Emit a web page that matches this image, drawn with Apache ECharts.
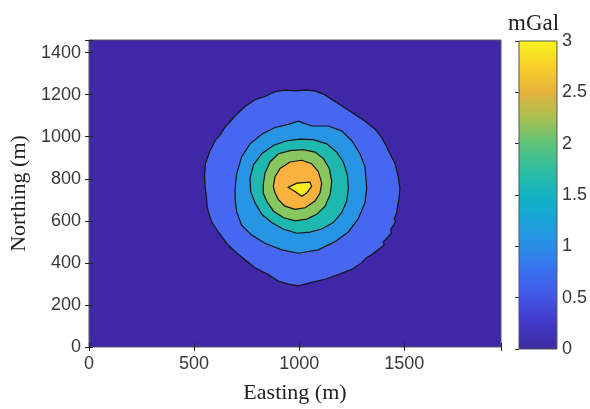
<!DOCTYPE html>
<html><head><meta charset="utf-8">
<script src="https://cdn.jsdelivr.net/npm/echarts@6/dist/echarts.min.js"></script>
<style>html,body{margin:0;padding:0;background:#fff}#c{width:590px;height:409px}</style>
</head><body><div id="c"></div>
<script>
// ---- data ----
const xRange = [0, 1960];
const yRange = [0, 1460];
const xTickLabels = [0, 500, 1000, 1500];
const yTickLabels = [0, 200, 400, 600, 800, 1000, 1200, 1400];
const cbRange = [0, 3];
const cbTickLabels = [0, 0.5, 1, 1.5, 2, 2.5, 3];
const levels = [0.5, 1.0, 1.5, 2.0, 2.5, 3.0];

// contour boundaries (Easting m, Northing m)
const contour05 = [[552,765],[550,820],[554,872],[576,934],[588,955],[599,981],[625,1010],[647,1044],[670,1070],[695,1098],[742,1144],[790,1176],[837,1191],[885,1214],[932,1222],[980,1218],[1028,1222],[1075,1218],[1123,1199],[1170,1168],[1218,1137],[1265,1106],[1313,1074],[1361,1036],[1392,997],[1410,965],[1424,934],[1456,872],[1471,810],[1479,756],[1475,703],[1468,672],[1464,641],[1452,610],[1458,595],[1448,578],[1435,560],[1438,540],[1416,516],[1400,500],[1404,485],[1384,470],[1345,439],[1320,425],[1297,400],[1250,369],[1186,345],[1123,322],[1059,307],[996,291],[948,299],[901,314],[853,345],[790,377],[742,415],[695,454],[655,493],[615,547],[584,594],[568,641],[562,670],[560,703]];
const contour10 = [[695,756],[703,826],[726,904],[766,966],[822,1012],[885,1044],[948,1059],[996,1074],[1059,1051],[1138,1051],[1202,1028],[1250,981],[1289,919],[1313,857],[1321,756],[1313,687],[1281,610],[1234,547],[1170,501],[1091,462],[996,446],[917,462],[837,493],[774,532],[726,579],[703,641],[695,703]];
const contour15 = [[766,802],[782,865],[822,919],[877,958],[941,981],[1004,989],[1067,986],[1131,966],[1178,927],[1210,880],[1229,818],[1234,756],[1226,694],[1202,639],[1162,592],[1107,561],[1051,546],[988,541],[924,561],[869,592],[822,631],[790,686],[769,740]];
const contour20 = [[829,771],[837,826],[861,880],[901,919],[956,934],[1019,939],[1075,927],[1115,896],[1143,849],[1155,787],[1147,725],[1123,670],[1083,631],[1036,608],[980,600],[924,616],[877,647],[845,694],[829,732]];
const contour25 = [[877,764],[885,810],[909,849],[956,880],[1012,888],[1059,872],[1091,834],[1107,779],[1099,732],[1075,694],[1028,662],[980,655],[932,670],[901,701],[885,732]];
const contour30 = [[948,759],[988,779],[1051,784],[1059,764],[1036,732],[1012,717],[980,740]];
const contours = [contour05, contour10, contour15, contour20, contour25, contour30];

// ---- style ----
const bgColor = '#3E28A8';
const levelColors = ['#4767F0', '#2894E4', '#1DB8AE', '#88C760', '#F9B23E', '#F5EE1E'];
const cbStops = [
  [0.00, '#3B2A9E'], [0.083, '#4338C8'], [0.167, '#4454E6'], [0.25, '#3B6EF0'],
  [0.333, '#2A8EE6'], [0.417, '#1AA2DA'], [0.5, '#12B4C4'], [0.583, '#2FBDA0'],
  [0.667, '#5EC47A'], [0.75, '#A8C050'], [0.833, '#E4B23C'], [0.917, '#F8D02A'], [1.0, '#F8F41A']
];
const txt = '#383838';
const sans = 'Liberation Sans';
const serif = 'Liberation Serif';

function polySeries(pts, color) {
  return {
    type: 'custom', xAxisIndex: 0, yAxisIndex: 0, clip: true, silent: true,
    data: pts,
    renderItem: function (params, api) {
      if (params.dataIndex !== 0) return null;
      const p = pts.map(q => api.coord(q));
      return { type: 'polygon', shape: { points: p },
        style: { fill: color, stroke: '#141414', lineWidth: 1.2 } };
    }
  };
}

const chart = echarts.init(document.getElementById('c'), null, { renderer: 'canvas' });
const series = contours.map((c, i) => polySeries(c, levelColors[i]));
series.push({
  type: 'custom', xAxisIndex: 2, yAxisIndex: 2, silent: true,
  data: [[0, cbRange[0], cbRange[1]]],
  renderItem: function (params, api) {
    const a = api.coord([0, api.value(1)]);
    const b = api.coord([1, api.value(2)]);
    return { type: 'rect', shape: { x: a[0], y: b[1], width: b[0] - a[0], height: a[1] - b[1] },
      style: { fill: new echarts.graphic.LinearGradient(0, 1, 0, 0,
        cbStops.map(s => ({ offset: s[0], color: s[1] }))), stroke: '#555', lineWidth: 1 } };
  }
});

const fmtX = v => xTickLabels.includes(v) ? String(v) : '';
const fmtY = v => yTickLabels.includes(v) ? String(v) : '';
const fmtC = v => cbTickLabels.includes(v) ? String(v) : '';

chart.setOption({
  animation: false,
  title: { text: 'mGal', left: 508, top: 12, padding: 0,
    textStyle: { fontFamily: serif, fontSize: 23, fontWeight: 'normal', color: '#222' } },
  grid: [
    { left: 89, top: 40, width: 412, height: 312, show: true, backgroundColor: bgColor, borderColor: '#555', borderWidth: 1 },
    { left: 519, top: 41, width: 38, height: 308, show: false }
  ],
  xAxis: [
    { gridIndex: 0, type: 'value', min: xRange[0], max: xRange[1], interval: 500, position: 'bottom',
      name: 'Easting (m)', nameLocation: 'middle', nameGap: 35,
      nameTextStyle: { fontFamily: serif, fontSize: 22, color: '#222' },
      axisLine: { show: false }, splitLine: { show: false },
      axisTick: { inside: true, length: 4, lineStyle: { color: '#222' } },
      axisLabel: { formatter: fmtX, fontFamily: sans, fontSize: 18, color: txt, margin: 8 } },
    { gridIndex: 0, type: 'value', min: xRange[0], max: xRange[1], interval: 500, position: 'top',
      axisLine: { show: false }, splitLine: { show: false }, axisLabel: { show: false },
      axisTick: { inside: true, length: 4, lineStyle: { color: '#222' } } },
    { gridIndex: 1, type: 'value', min: 0, max: 1, show: false }
  ],
  yAxis: [
    { gridIndex: 0, type: 'value', min: yRange[0], max: yRange[1], interval: 200, position: 'left',
      name: 'Northing (m)', nameLocation: 'middle', nameGap: 52,
      nameTextStyle: { fontFamily: serif, fontSize: 22, color: '#222' },
      axisLine: { show: false }, splitLine: { show: false },
      axisTick: { inside: true, length: 4, lineStyle: { color: '#222' } },
      axisLabel: { formatter: fmtY, fontFamily: sans, fontSize: 18, color: txt, margin: 8 } },
    { gridIndex: 0, type: 'value', min: yRange[0], max: yRange[1], interval: 200, position: 'right',
      axisLine: { show: false }, splitLine: { show: false }, axisLabel: { show: false },
      axisTick: { inside: true, length: 4, lineStyle: { color: '#222' } } },
    { gridIndex: 1, type: 'value', min: cbRange[0], max: cbRange[1], interval: 0.5, position: 'right',
      axisLine: { show: false }, splitLine: { show: false },
      axisTick: { inside: true, length: 4, lineStyle: { color: '#333' } },
      axisLabel: { formatter: fmtC, fontFamily: sans, fontSize: 18, color: txt, margin: 5, padding: [3, 0, 0, 0] } }
  ],
  series: series
});
</script></body></html>
